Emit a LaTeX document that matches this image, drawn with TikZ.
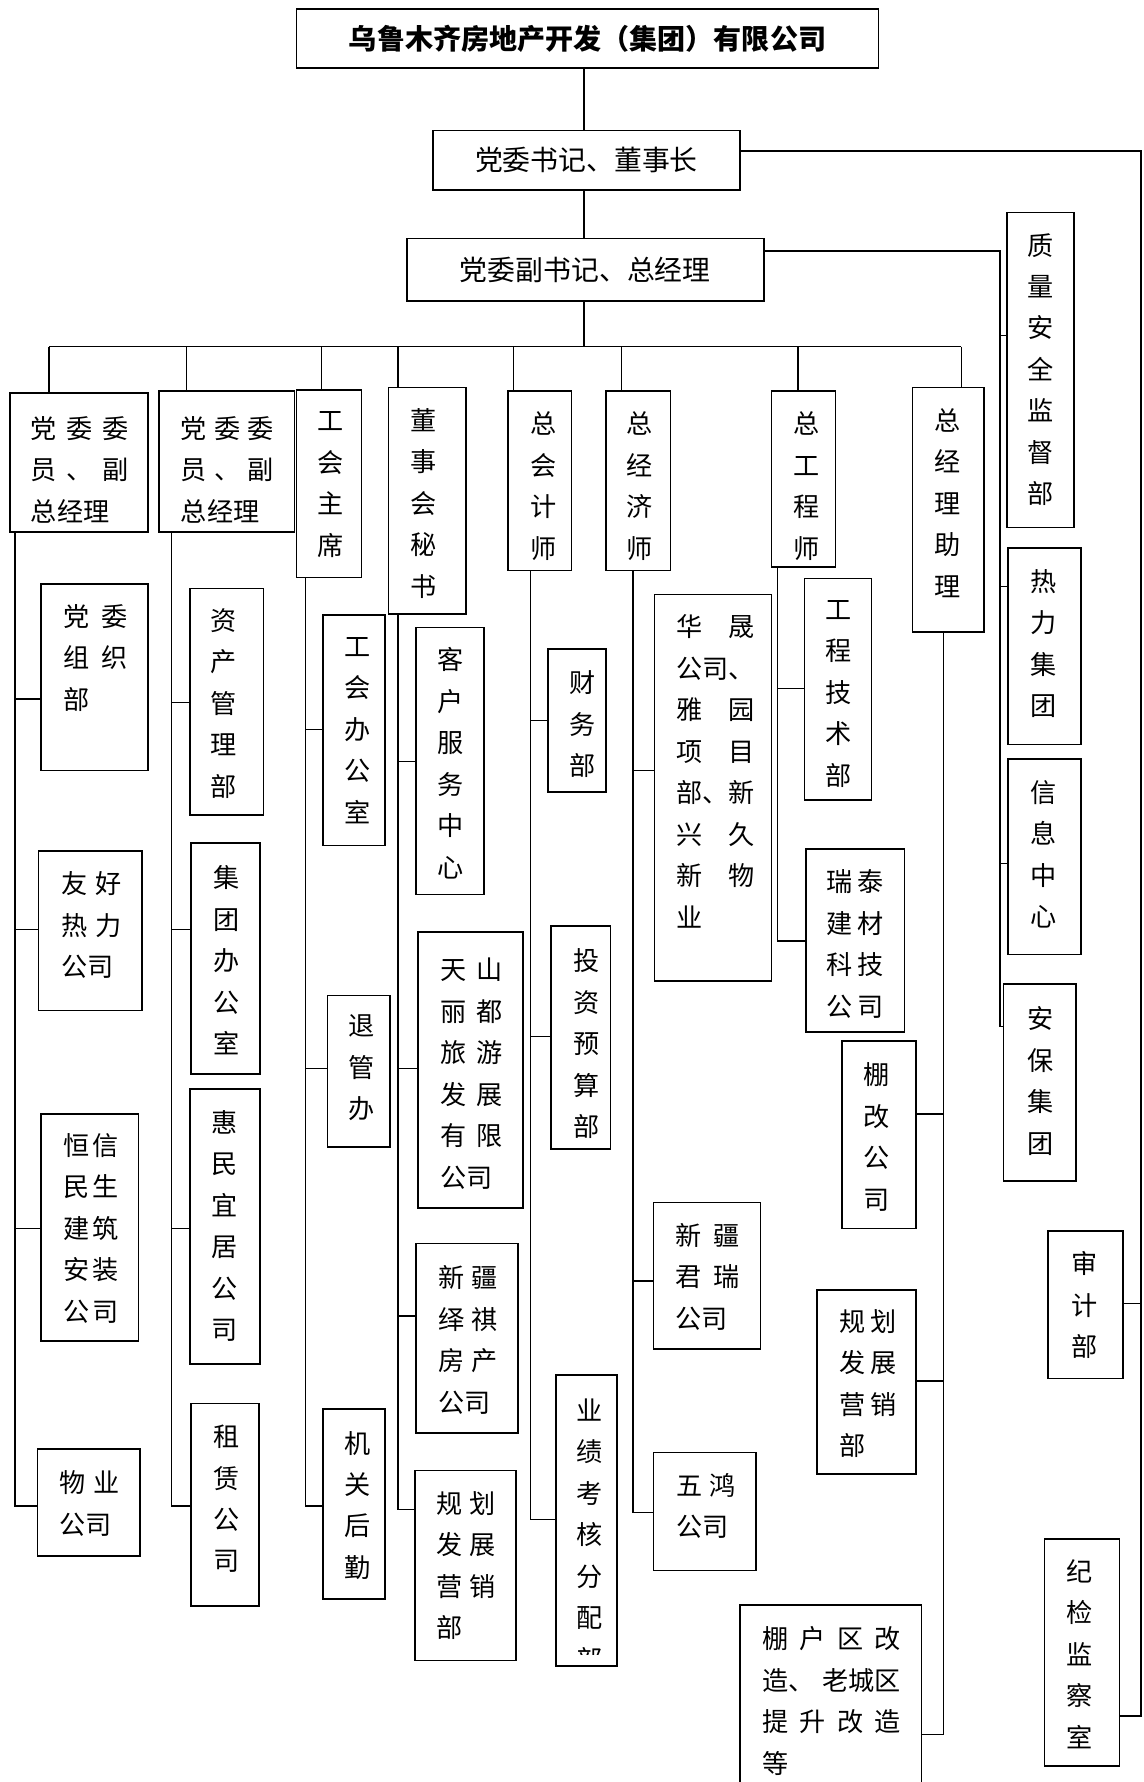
\documentclass[tikz,border=0pt]{standalone}
\usepackage{fontspec}
\newfontfamily\cjk{Noto Sans CJK SC}
\setlength{\parindent}{0pt}
\tikzset{
  box/.style={draw, line width=1.4pt, inner sep=0pt},
  ln/.style={line width=1.3pt},
  vt/.style={inner sep=0pt, anchor=north, align=center, text width=26pt, font=\cjk\fontsize{23}{36.5}\selectfont},
  jt/.style={inner sep=0pt, anchor=north west, align=left, font=\cjk\fontsize{23}{36.5}\selectfont},
  hd/.style={inner sep=0pt, font=\cjk\fontsize{24.5}{28}\selectfont},
}
\newcommand\bx[5]{\node[box, minimum width={(#4-#2)*1pt}, minimum height={(#5-#3)*1pt}] (#1) at ({(#2+#4)/2},{(#3+#5)/2}) {};}
\begin{document}
\begin{tikzpicture}[x=1pt,y=-1pt]
\useasboundingbox (0,0) rectangle (1006,1568);
% ---------- boxes ----------
\bx{T}{261}{8}{773}{60}
\bx{C}{381}{115}{651}{167}
\bx{G}{358}{210}{672}{265}
\bx{c1}{9}{346}{130}{468}
\bx{c2}{140}{344}{259}{468}
\bx{c3}{261}{343}{318}{508}
\bx{c4}{342}{341}{410}{540}
\bx{c5}{447}{344}{503}{502}
\bx{c6}{533}{344}{590}{502}
\bx{c7}{679}{344}{735}{499}
\bx{c8}{803}{341}{866}{556}
\bx{q1}{886}{187}{945}{464}
\bx{q2}{887}{482}{951}{655}
\bx{q3}{887}{668}{951}{840}
\bx{q4}{883}{866}{947}{1039}
\bx{a1}{922}{1083}{988}{1213}
\bx{a2}{919}{1354}{985}{1554}
\bx{k11}{36}{514}{130}{678}
\bx{k12}{34}{749}{125}{889}
\bx{k13}{36}{980}{122}{1180}
\bx{k14}{33}{1275}{123}{1369}
\bx{k21}{167}{518}{232}{717}
\bx{k22}{168}{742}{229}{945}
\bx{k23}{167}{958}{229}{1200}
\bx{k24}{168}{1235}{228}{1413}
\bx{k31}{284}{541}{339}{744}
\bx{k32}{288}{876}{343}{1009}
\bx{k33}{284}{1240}{339}{1407}
\bx{k41}{366}{552}{426}{787}
\bx{k42}{368}{820}{460}{1063}
\bx{k43}{366}{1094}{456}{1261}
\bx{k44}{365}{1294}{454}{1461}
\bx{k51}{482}{571}{533}{697}
\bx{k52}{485}{815}{537}{1011}
\bx{k53}{489}{1210}{543}{1466}
\bx{k61}{576}{523}{679}{863}
\bx{k62}{575}{1058}{669}{1187}
\bx{k63}{575}{1278}{665}{1382}
\bx{k71}{708}{509}{767}{704}
\bx{k72}{709}{747}{796}{908}
\bx{k81}{741}{916}{806}{1081}
\bx{k82}{719}{1135}{806}{1297}
\bx{k83}{651}{1412}{811}{1600}
% ---------- texts ----------
\node[hd, font=\cjk\bfseries\fontsize{24.7}{28}\selectfont] at (T) {乌鲁木齐房地产开发（集团）有限公司};
\node[hd] at (C) {党委书记、董事长};
\node[hd] at (G) {党委副书记、总经理};
\node[jt, text width=86pt] at (27,366) {党\hfill 委\hfill 委\\员\hfill 、\hfill 副\\总经理};
\node[jt, text width=82pt] at (159,366) {党\hfill 委\hfill 委\\员\hfill 、\hfill 副\\总经理};
\node[vt] at (291,362) {工\\会\\主\\席};
\node[vt] at (373,359) {董\\事\\会\\秘\\书};
\node[vt] at (478,362) {总\\会\\计\\师};
\node[vt] at (563,362) {总\\经\\济\\师};
\node[vt] at (709.5,362) {总\\工\\程\\师};
\node[vt] at (834,359) {总\\经\\理\\助\\理};
\node[vt] at (916,205) {质\\量\\安\\全\\监\\督\\部};
\node[vt] at (918,500.6) {热\\力\\集\\团};
\node[vt] at (918,686.6) {信\\息\\中\\心};
\node[vt] at (915.5,885.6) {安\\保\\集\\团};
\node[vt] at (954,1101) {审\\计\\部};
\node[vt] at (949.5,1372) {纪\\检\\监\\察\\室};
\node[jt, text width=56pt] at (56,531.6) {党\hfill 委\\组\hfill 织\\部};
\node[jt, text width=53pt] at (54,767) {友\hfill 好\\热\hfill 力\\公司};
\node[jt, text width=48pt] at (56,997) {恒\hfill 信\\民\hfill 生\\建\hfill 筑\\安\hfill 装\\公\hfill 司};
\node[jt, text width=53pt] at (52,1294) {物\hfill 业\\公司};
\node[vt] at (197,535) {资\\产\\管\\理\\部};
\node[vt] at (199,761.6) {集\\团\\办\\公\\室};
\node[vt] at (198,977) {惠\\民\\宜\\居\\公\\司};
\node[vt] at (199,1253.6) {租\\赁\\公\\司};
\node[vt] at (315,560.7) {工\\会\\办\\公\\室};
\node[vt] at (318,892.8) {退\\管\\办};
\node[vt] at (314.5,1259) {机\\关\\后\\勤};
\node[vt] at (396.6,569.8) {客\\户\\服\\务\\中\\心};
\node[jt, text width=55pt] at (387,843) {天\hfill 山\\丽\hfill 都\\旅\hfill 游\\发\hfill 展\\有\hfill 限\\公司};
\node[jt, text width=52pt] at (385.6,1113.6) {新\hfill 疆\\绎\hfill 祺\\房\hfill 产\\公司};
\node[jt, text width=52pt] at (384,1312) {规\hfill 划\\发\hfill 展\\营\hfill 销\\部};
\node[vt] at (513,590) {财\\务\\部};
\node[vt] at (516,834.5) {投\\资\\预\\算\\部};
\begin{scope}
\clip (489,1210) rectangle (543,1456);
\node[vt] at (519,1230.6) {业\\绩\\考\\核\\分\\配\\部};
\end{scope}
\node[jt, text width=69pt] at (595,540.7) {华\nobreak\hfill 晟\\公司、\\雅\nobreak\hfill 园\\项\nobreak\hfill 目\\部、\nobreak\hfill 新\\兴\nobreak\hfill 久\\新\nobreak\hfill 物\\业};
\node[jt, text width=57pt] at (594,1076) {新\hfill 疆\\君\hfill 瑞\\公司};
\node[jt, text width=52pt] at (595,1296) {五\hfill 鸿\\公司};
\node[vt] at (738,528) {工\\程\\技\\术\\部};
\node[jt, text width=50pt] at (727,765) {瑞\hfill 泰\\建\hfill 材\\科\hfill 技\\公\hfill 司};
\node[vt] at (771,935) {棚\\改\\公\\司};
\node[jt, text width=50pt] at (738.5,1152) {规\hfill 划\\发\hfill 展\\营\hfill 销\\部};
\node[jt, text width=122pt] at (670.6,1431) {棚\hfill 户\hfill 区\hfill 改\\造、\nobreak\hfill 老城区\\提\hfill 升\hfill 改\hfill 造\\等};
% ---------- connectors ----------
\draw[ln] (T.south -| 514,0) -- (C.north -| 514,0);
\draw[ln] (C.south -| 514,0) -- (G.north -| 514,0);
\draw[ln] (G.south -| 514,0) -- (514,305);
\draw[ln] (43,305) -- (846,305);
\draw[ln] (43,305) -- (c1.north -| 43,0);
\draw[ln] (164,305) -- (c2.north -| 164,0);
\draw[ln] (283,305) -- (c3.north -| 283,0);
\draw[ln] (350,305) -- (c4.north -| 350,0);
\draw[ln] (452,305) -- (c5.north -| 452,0);
\draw[ln] (547,305) -- (c6.north -| 547,0);
\draw[ln] (702,305) -- (c7.north -| 702,0);
\draw[ln] (846,305) -- (c8.north -| 846,0);
% chairman right branch
\draw[ln] (C.east |- 0,133) -- (1004,133) -- (1004,1510) -- (a2.east |- 0,1510);
\draw[ln] (1004,1147) -- (a1.east |- 0,1147);
% GM right branch
\draw[ln] (G.east |- 0,221) -- (880,221) -- (880,903) -- (q4.west |- 0,903);
\draw[ln] (880,295) -- (q1.west |- 0,295);
\draw[ln] (880,516) -- (q2.west |- 0,516);
\draw[ln] (880,760) -- (q3.west |- 0,760);
% column 1
\draw[ln] (c1.south -| 13,0) -- (13,1325) -- (k14.west |- 0,1325);
\draw[ln] (13,615) -- (k11.west |- 0,615);
\draw[ln] (13,818) -- (k12.west |- 0,818);
\draw[ln] (13,1081) -- (k13.west |- 0,1081);
% column 2
\draw[ln] (c2.south -| 151,0) -- (151,1325) -- (k24.west |- 0,1325);
\draw[ln] (151,618) -- (k21.west |- 0,618);
\draw[ln] (151,818) -- (k22.west |- 0,818);
\draw[ln] (151,1081) -- (k23.west |- 0,1081);
% column 3
\draw[ln] (c3.south -| 269,0) -- (269,1325) -- (k33.west |- 0,1325);
\draw[ln] (269,642) -- (k31.west |- 0,642);
\draw[ln] (269,940) -- (k32.west |- 0,940);
% column 4
\draw[ln] (c4.south -| 350,0) -- (350,1328) -- (k44.west |- 0,1328);
\draw[ln] (350,670) -- (k41.west |- 0,670);
\draw[ln] (350,940) -- (k42.west |- 0,940);
\draw[ln] (350,1158) -- (k43.west |- 0,1158);
% column 5
\draw[ln] (c5.south -| 467,0) -- (467,1337) -- (k53.west |- 0,1337);
\draw[ln] (467,634) -- (k51.west |- 0,634);
\draw[ln] (467,912) -- (k52.west |- 0,912);
% column 6
\draw[ln] (c6.south -| 557,0) -- (557,1331) -- (k63.west |- 0,1331);
\draw[ln] (557,678) -- (k61.west |- 0,678);
\draw[ln] (557,1127) -- (k62.west |- 0,1127);
% column 7
\draw[ln] (c7.south -| 684,0) -- (684,828) -- (k72.west |- 0,828);
\draw[ln] (684,606) -- (k71.west |- 0,606);
% column 8
\draw[ln] (c8.south -| 830,0) -- (830,1526) -- (k83.east |- 0,1526);
\draw[ln] (830,980) -- (k81.east |- 0,980);
\draw[ln] (830,1215) -- (k82.east |- 0,1215);
\end{tikzpicture}
\end{document}
